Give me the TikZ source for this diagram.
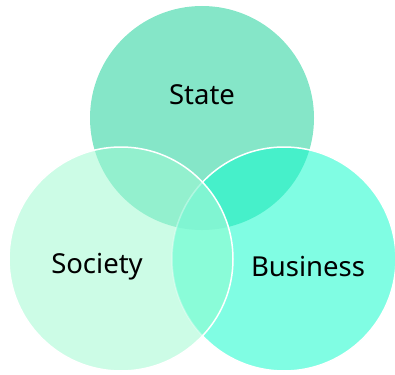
\documentclass[tikz,border=0pt]{standalone}
\usepackage{fontspec}
\setmainfont{Noto Sans}

\definecolor{stateCol}{HTML}{85E6C8}
\definecolor{societyCol}{HTML}{CCFCE6}
\definecolor{businessCol}{HTML}{80FDE3}
\definecolor{stSoCol}{HTML}{93F0CE}
\definecolor{stBuCol}{HTML}{46F0CA}
\definecolor{soBuCol}{HTML}{8AFCD8}
\definecolor{allCol}{HTML}{80F5D2}

\tikzset{
  rim/.style={draw=white, line width=1.5pt},
  lbl/.style={font=\fontsize{27.5}{32}\selectfont, text=black}
}

\begin{document}
\begin{tikzpicture}[x=1pt, y=-1pt]
    \useasboundingbox (0, 0) rectangle (395, 374);

    \coordinate (cState) at (202, 118);
    \coordinate (cSociety) at (121, 259);
    \coordinate (cBusiness) at (284, 259);
    \def\rad{112}

    % state, then business
    \fill[stateCol] (cState) circle (\rad);
    \fill[businessCol] (cBusiness) circle (\rad);
    \begin{scope}
        \clip (cState) circle (\rad);
        \fill[stBuCol] (cBusiness) circle (\rad);
    \end{scope}
    \draw[rim] (cBusiness) circle (\rad);

    % society on top
    \fill[societyCol] (cSociety) circle (\rad);
    \begin{scope}
        \clip (cSociety) circle (\rad);
        \fill[stSoCol] (cState) circle (\rad);
        \fill[soBuCol] (cBusiness) circle (\rad);
        \begin{scope}
            \clip (cState) circle (\rad);
            \fill[allCol] (cBusiness) circle (\rad);
        \end{scope}
        \draw[rim, draw opacity=0.35] (cBusiness) circle (\rad);
    \end{scope}
    \draw[rim] (cSociety) circle (\rad);

    \node[lbl] (state) at (202, 95) {State};
    \node[lbl] (society) at (97, 267) {Society};
    \node[lbl] (business) at (308, 267) {Business};
\end{tikzpicture}
\end{document}
